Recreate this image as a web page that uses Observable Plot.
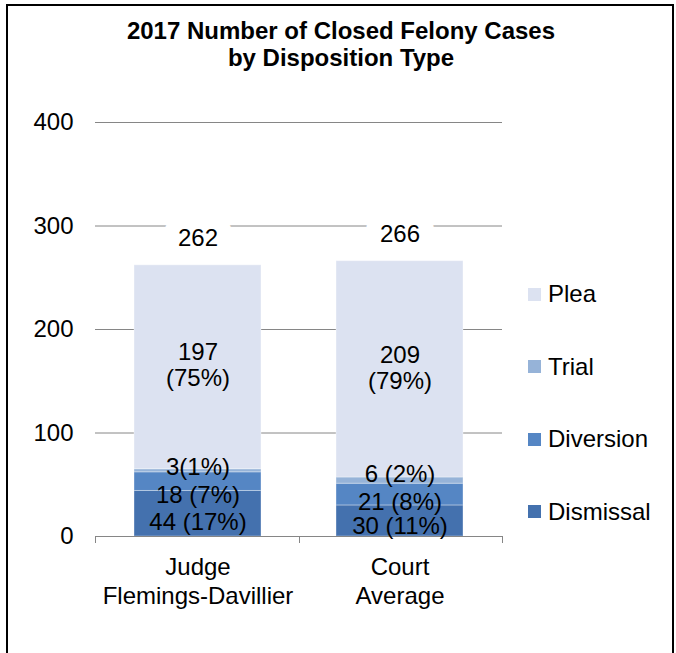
<!DOCTYPE html>
<html><head><meta charset="utf-8">
<script src="https://cdn.jsdelivr.net/npm/d3@7"></script>
<script src="https://cdn.jsdelivr.net/npm/@observablehq/plot@0.6"></script>
<style>
body{margin:0;background:#fff;font-family:"Liberation Sans",Arial,sans-serif;}
#wrap{position:relative;width:676px;height:653px;overflow:hidden;background:#fff}
#border{position:absolute;left:6px;top:4px;width:668px;height:700px;border:2px solid #000;box-sizing:border-box}
#title{position:absolute;left:0;width:682px;top:17px;text-align:center;font-weight:bold;font-size:24px;line-height:27px;color:#000}
#chart{position:absolute;left:0;top:0}
#legend{position:absolute;left:528px;top:0}
.item{position:absolute;left:0;height:28px;display:flex;align-items:center;white-space:nowrap;font-size:24px;color:#000}
.sw{width:13px;height:13px;margin-right:7px;flex:none}
</style></head>
<body>
<div id="wrap">
  <div id="border"></div>
  <div id="chart"></div>
  <div id="title">2017 Number of Closed Felony Cases<br>by Disposition Type</div>
  <div id="legend"></div>
</div>
<script>
// ---- data ----
const categories = ["Judge\nFlemings-Davillier", "Court\nAverage"];
const series = ["Dismissal", "Diversion", "Trial", "Plea"];
const dismissal = [44, 30];
const diversion = [18, 21];
const trial = [3, 6];
const plea = [197, 209];
const dismissalLabels = ["44 (17%)", "30 (11%)"];
const diversionLabels = ["18 (7%)", "21 (8%)"];
const trialLabels = ["3(1%)", "6 (2%)"];
const pleaLabels = ["197\n(75%)", "209\n(79%)"];
const yTicks = [0, 100, 200, 300, 400];
const colors = ["#4471AE", "#5586C4", "#96B3D8", "#DCE2F1"];

// ---- layout / style ----
const W = 676, H = 653;
const mTop = 122, mBottom = 117, mLeft = 95, mRight = 174;
const pxPerUnit = (H - mTop - mBottom) / 400;
// pixel nudges so the small stacked labels do not overlap (as in the original)
const nudge = {Dismissal: [8, 5], Diversion: [13, 7], Trial: [-4, -7], Plea: [-3, -2]};

const valuesBySeries = {Dismissal: dismissal, Diversion: diversion, Trial: trial, Plea: plea};
const labelsBySeries = {Dismissal: dismissalLabels, Diversion: diversionLabels, Trial: trialLabels, Plea: pleaLabels};

const rows = [];
const labelRows = [];
const totals = [];
categories.forEach((c, i) => {
  let cum = 0;
  series.forEach(s => {
    const v = valuesBySeries[s][i];
    rows.push({category: c, series: s, value: v});
    labelRows.push({category: c, y: cum + v / 2 - nudge[s][i] / pxPerUnit, text: labelsBySeries[s][i]});
    cum += v;
  });
  totals.push({category: c, total: cum});
});

const xTicksMark = (index, scales, values, dims, context) => {
  const doc = context.document;
  const g = doc.createElementNS("http://www.w3.org/2000/svg", "g");
  const x0 = dims.marginLeft, x1 = dims.width - dims.marginRight, y0 = dims.height - dims.marginBottom;
  const n = categories.length;
  for (let k = 0; k <= n; k++) {
    const x = Math.round(x0 + (x1 - x0) * k / n) + 0.5;
    const l = doc.createElementNS("http://www.w3.org/2000/svg", "line");
    l.setAttribute("x1", x); l.setAttribute("x2", x);
    l.setAttribute("y1", y0); l.setAttribute("y2", y0 + 7);
    l.setAttribute("stroke", "#868686");
    g.appendChild(l);
  }
  return g;
};

const chart = Plot.plot({
  width: W, height: H,
  marginTop: mTop, marginBottom: mBottom, marginLeft: mLeft, marginRight: mRight,
  style: {fontFamily: "Liberation Sans, Arial, sans-serif", background: "transparent", color: "#000"},
  x: {type: "band", domain: categories, paddingInner: 0.37, paddingOuter: 0.19, label: null},
  y: {domain: [0, 400], label: null},
  color: {domain: series, range: colors},
  marks: [
    Plot.gridY(yTicks.slice(1), {stroke: "#868686", strokeOpacity: 1}),
    Plot.axisY({ticks: yTicks, tickSize: 0, tickPadding: 22, fontSize: 24, label: null}),
    Plot.axisX({tickSize: 0, tickPadding: 19, fontSize: 24, lineHeight: 1.17, label: null}),
    Plot.barY(rows, Plot.stackY({x: "category", y: "value", fill: "series", order: series,
      stroke: "#ffffff", strokeOpacity: 0.35, strokeWidth: 1})),
    Plot.ruleY([0], {stroke: "#868686"}),
    xTicksMark,
    Plot.text(labelRows, {x: "category", y: "y", text: "text", fontSize: 24, lineHeight: 1.1, fill: "#000"}),
    Plot.text(totals, {x: "category", y: "total", text: d => String(d.total), dy: -27, fontSize: 24,
      fill: "#000", stroke: "#fff", strokeWidth: 30, strokeLinejoin: "round"})
  ]
});
document.getElementById("chart").appendChild(chart);

// legend (top to bottom: Plea, Trial, Diversion, Dismissal)
const legend = document.getElementById("legend");
series.slice().reverse().forEach((s, k) => {
  const item = document.createElement("div");
  item.className = "item";
  item.style.top = (294 - 14 + k * 72.5) + "px";
  const sw = document.createElement("span");
  sw.className = "sw";
  sw.style.background = colors[series.indexOf(s)];
  const t = document.createElement("span");
  t.textContent = s;
  item.appendChild(sw); item.appendChild(t);
  legend.appendChild(item);
});
</script>
</body></html>
